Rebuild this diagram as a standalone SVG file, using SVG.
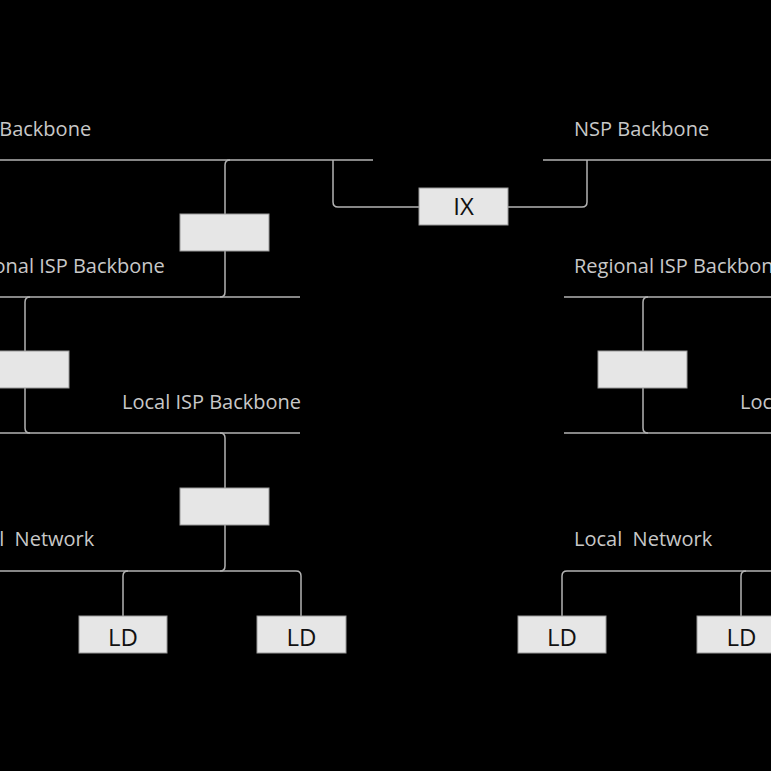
<svg xmlns="http://www.w3.org/2000/svg" width="771" height="771" viewBox="0 0 771 771">
<style>
.ln{fill:none;stroke:#b3b3b3;stroke-width:1.5}
.bx{fill:#e6e6e6;stroke:#999999;stroke-width:1}
.lb{font-family:"Open Sans","Liberation Sans",sans-serif;font-size:20px;fill:#c8c8c8;white-space:pre}
.bt{font-family:"Open Sans","Liberation Sans",sans-serif;font-size:24px;fill:#111111;text-anchor:middle}
</style>
<rect x="0" y="0" width="771" height="771" fill="#000000"/>
<g id="labels">
<text class="lb" x="-44" y="136">NSP Backbone</text>
<text class="lb" x="574" y="136">NSP Backbone</text>
<text class="lb" x="-46" y="273">Regional ISP Backbone</text>
<text class="lb" x="574" y="273">Regional ISP Backbone</text>
<text class="lb" x="122" y="409">Local ISP Backbone</text>
<text class="lb" x="740" y="409">Local ISP Backbone</text>
<text class="lb" x="-44" y="546" xml:space="preserve">Local  Network</text>
<text class="lb" x="574" y="546" xml:space="preserve">Local  Network</text>
</g>
<g id="connectors">
<path class="ln" d="M0 160 H373"/>
<path class="ln" d="M543 160 H771"/>
<path class="ln" d="M0 297 H300"/>
<path class="ln" d="M564 297 H771"/>
<path class="ln" d="M0 433 H300"/>
<path class="ln" d="M564 433 H771"/>
<path class="ln" d="M0 571 H296 Q301 571 301 576 V616"/>
<path class="ln" d="M562 616 V576 Q562 571 567 571 H771"/>
<path class="ln" d="M333 160 V202 Q333 207 338 207 H419"/>
<path class="ln" d="M508 207 H582 Q587 207 587 202 V160"/>
<path class="ln" d="M230 160 Q225 160 225 165 V214"/>
<path class="ln" d="M225 251 V292 Q225 297 220 297"/>
<path class="ln" d="M30 297 Q25 297 25 302 V351"/>
<path class="ln" d="M25 388 V428 Q25 433 30 433"/>
<path class="ln" d="M220 433 Q225 433 225 438 V488"/>
<path class="ln" d="M225 525 V566 Q225 571 220 571"/>
<path class="ln" d="M128 571 Q123 571 123 576 V616"/>
<path class="ln" d="M648 297 Q643 297 643 302 V351"/>
<path class="ln" d="M643 388 V428 Q643 433 648 433"/>
<path class="ln" d="M746 571 Q741 571 741 576 V616"/>
</g>
<g id="ix"><rect class="bx" x="419" y="188" width="89" height="37"/><text class="bt" x="463.5" y="215">IX</text></g>
<g id="router-nsp"><rect class="bx" x="180" y="214" width="89" height="37"/></g>
<g id="router-regional-left"><rect class="bx" x="-20" y="351" width="89" height="37"/></g>
<g id="router-local-left"><rect class="bx" x="180" y="488" width="89" height="37"/></g>
<g id="router-regional-right"><rect class="bx" x="598" y="351" width="89" height="37"/></g>
<g id="ld1"><rect class="bx" x="79" y="616" width="88" height="37"/><text class="bt" x="123" y="646">LD</text></g>
<g id="ld2"><rect class="bx" x="257" y="616" width="89" height="37"/><text class="bt" x="301.5" y="646">LD</text></g>
<g id="ld3"><rect class="bx" x="518" y="616" width="88" height="37"/><text class="bt" x="562" y="646">LD</text></g>
<g id="ld4"><rect class="bx" x="697" y="616" width="89" height="37"/><text class="bt" x="741.5" y="646">LD</text></g>
</svg>
